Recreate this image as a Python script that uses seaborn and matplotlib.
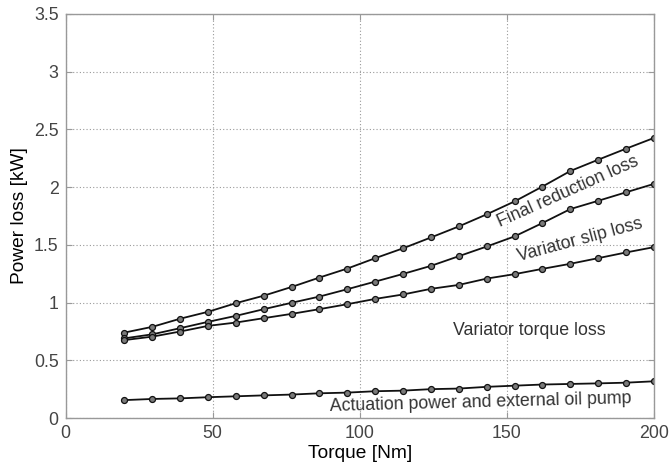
import matplotlib
matplotlib.use("Agg")
import matplotlib.pyplot as plt
import pandas as pd
import seaborn as sns

# Data
torque = [20, 29.5, 38.9, 48.4, 57.9, 67.4, 76.8, 86.3, 95.8, 105.3,
          114.7, 124.2, 133.7, 143.2, 152.6, 162.1, 171.6, 181.1, 190.5, 200]
final_reduction = [0.74, 0.79, 0.86, 0.92, 0.995, 1.06, 1.135, 1.217, 1.295, 1.385,
                   1.47, 1.564, 1.66, 1.765, 1.876, 2.005, 2.14, 2.238, 2.333, 2.426]
variator_slip = [0.69, 0.725, 0.778, 0.833, 0.885, 0.943, 0.998, 1.052, 1.116, 1.182,
                 1.248, 1.318, 1.402, 1.486, 1.573, 1.689, 1.81, 1.882, 1.955, 2.028]
variator_torque = [0.675, 0.705, 0.749, 0.798, 0.827, 0.865, 0.902, 0.943, 0.986, 1.032,
                   1.07, 1.119, 1.153, 1.208, 1.246, 1.292, 1.336, 1.385, 1.434, 1.48]
actuation = [0.155, 0.165, 0.17, 0.18, 0.188, 0.196, 0.203, 0.214, 0.22, 0.232,
             0.237, 0.25, 0.255, 0.27, 0.28, 0.29, 0.295, 0.30, 0.306, 0.318]

series = {
    "Final reduction loss": final_reduction,
    "Variator slip loss": variator_slip,
    "Variator torque loss": variator_torque,
    "Actuation power and external oil pump": actuation,
}

df = pd.concat(
    [pd.DataFrame({"torque": torque, "loss": vals, "series": name})
     for name, vals in series.items()],
    ignore_index=True,
)

sns.set_style("white")
plt.rcParams["font.family"] = ["Liberation Sans", "DejaVu Sans"]

fig = plt.figure(figsize=(6.7, 4.66), dpi=100)
ax = fig.add_axes([0.098, 0.103, 0.878, 0.867])

sns.lineplot(data=df, x="torque", y="loss", hue="series",
             palette=["#111111"] * 4, marker="o", markersize=4.3,
             markerfacecolor="#7a7a7a", markeredgecolor="#111111",
             markeredgewidth=0.9, linewidth=1.3, legend=False, ax=ax)

ax.set_xlim(0, 200)
ax.set_ylim(0, 3.5)
ax.set_xticks([0, 50, 100, 150, 200])
ax.set_yticks([0, 0.5, 1, 1.5, 2, 2.5, 3, 3.5])
ax.set_yticklabels(["0", "0.5", "1", "1.5", "2", "2.5", "3", "3.5"])

ax.grid(True, color="#999999", linestyle=(0, (1, 2)), linewidth=0.8)
for sp in ax.spines.values():
    sp.set_visible(True)
    sp.set_color("#999999")
    sp.set_linewidth(1.0)
ax.tick_params(direction="in", length=4, width=0.8, color="#999999",
               labelsize=12.8, labelcolor="#444444", pad=5,
               top=True, right=True, bottom=True, left=True)

ax.set_xlabel("Torque [Nm]", fontsize=13.8, color="black", labelpad=2)
ax.set_ylabel("Power loss [kW]", fontsize=13.8, color="black", labelpad=4)

txt = dict(fontsize=12.8, color="#333333", ha="center", va="center",
           rotation_mode="anchor")
ax.text(170.8, 1.96, "Final reduction loss", rotation=24, **txt)
ax.text(175, 1.54, "Variator slip loss", rotation=15, **txt)
ax.text(157.6, 0.755, "Variator torque loss", rotation=0, **txt)
ax.text(141, 0.13, "Actuation power and external oil pump", rotation=1.5, **txt)

fig.savefig("out.png", dpi=100)
